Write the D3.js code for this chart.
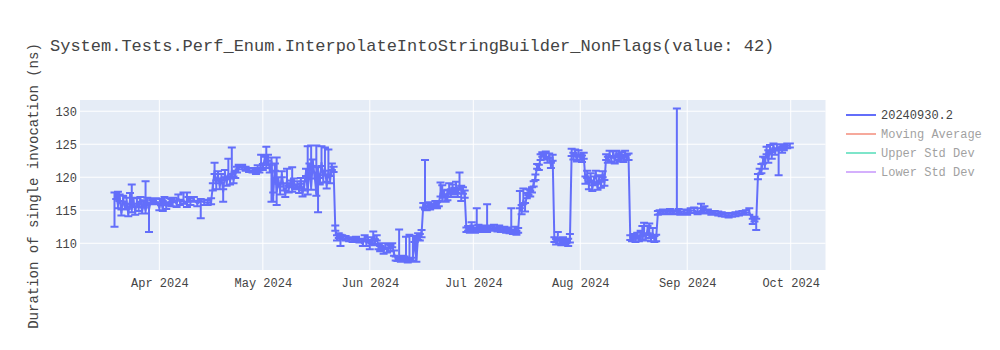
<!DOCTYPE html>
<html><head><meta charset="utf-8">
<script src="https://cdn.jsdelivr.net/npm/d3@7"></script>
<style>
body{margin:0;background:#fff}
svg{display:block}
text{font-family:"Liberation Mono","Courier New",monospace;fill:#444}
</style>
</head><body>
<svg id="chart" width="1000" height="350"></svg>
<script>
// ---------------- DATA ----------------
const title = "System.Tests.Perf_Enum.InterpolateIntoStringBuilder_NonFlags(value: 42)";
const yTitle = "Duration of single invocation (ns)";
const seriesName = "20240930.2";
const legendNames = ["20240930.2", "Moving Average", "Upper Std Dev", "Lower Std Dev"];
const yTicks = [110, 115, 120, 125, 130];
const xTicks = ["2024-04-01","2024-05-01","2024-06-01","2024-07-01","2024-08-01","2024-09-01","2024-10-01"];

const dates = [
// March
"03-19T00","03-19T12","03-20T00","03-20T12","03-21T00","03-21T12","03-22T00","03-22T12","03-23T00","03-23T12","03-24T00","03-24T12","03-25T00","03-25T12","03-26T00","03-26T12","03-27T00","03-27T12","03-28T00","03-28T12","03-29T00","03-29T12","03-30T00","03-31T00",
// April
"04-01T00","04-01T12","04-02T00","04-02T12","04-03T00","04-04T00","04-04T12","04-05T00","04-06T00","04-06T12","04-07T00","04-08T00","04-09T00","04-09T12","04-10T00","04-11T00","04-12T00","04-13T00","04-14T00","04-15T00","04-16T00","04-16T12","04-17T00","04-17T12","04-18T00","04-18T12","04-19T00","04-19T12","04-20T00","04-20T12","04-21T00","04-21T12","04-22T00","04-22T12","04-23T00","04-23T12","04-24T00","04-25T00","04-26T00","04-27T00","04-28T00","04-29T00","04-29T12","04-30T00","04-30T12",
// May
"05-01T00","05-01T12","05-02T00","05-02T12","05-03T00","05-03T12","05-04T00","05-04T12","05-05T00","05-05T12","05-06T00","05-06T12","05-07T00","05-07T12","05-08T00","05-08T12","05-09T00","05-09T12","05-10T00","05-10T12","05-11T00","05-11T12","05-12T00","05-12T12","05-13T00","05-13T12","05-14T00","05-14T12","05-15T00","05-15T12","05-16T00","05-16T12","05-17T00","05-17T12","05-18T00","05-18T12","05-19T00","05-19T12","05-20T00","05-20T12","05-21T00","05-21T12","05-22T00","05-22T12","05-23T00","05-23T12","05-24T00","05-25T00","05-26T00","05-27T00","05-28T00","05-29T00","05-30T00","05-30T12","05-31T00","05-31T12",
// June
"06-01T00","06-01T12","06-02T00","06-02T12","06-03T00","06-03T12","06-04T00","06-04T12","06-05T00","06-05T12","06-06T00","06-06T12","06-07T00","06-07T12","06-08T00","06-08T12","06-09T00","06-09T12","06-10T00","06-10T12","06-11T00","06-11T12","06-12T00","06-12T12","06-13T00","06-13T12","06-14T00","06-14T12","06-15T00","06-15T12","06-16T00","06-16T12","06-17T00","06-17T12","06-18T00","06-18T12","06-19T00","06-19T12","06-20T00","06-20T12","06-21T00","06-21T12","06-22T00","06-22T12","06-23T00","06-23T12","06-24T00","06-24T12","06-25T00","06-25T12","06-26T00","06-26T12","06-27T00","06-27T12","06-28T00","06-28T12","06-29T00","06-29T12","06-30T00","06-30T12",
// July
"07-01T00","07-01T12","07-02T00","07-02T12","07-03T00","07-03T12","07-04T00","07-04T12","07-05T00","07-05T12","07-06T00","07-07T00","07-08T00","07-08T12","07-09T00","07-10T00","07-10T12","07-11T00","07-11T12","07-12T00","07-12T12","07-13T00","07-13T12","07-14T00","07-14T12","07-15T00","07-15T12","07-16T00","07-16T12","07-17T00","07-17T12","07-18T00","07-18T12","07-19T00","07-19T12","07-20T00","07-20T12","07-21T00","07-21T12","07-22T00","07-22T12","07-23T00","07-23T12","07-24T00","07-24T12","07-25T00","07-25T12","07-26T00","07-26T12","07-27T00","07-27T12","07-28T00","07-28T12","07-29T00","07-29T12","07-30T00","07-30T12","07-31T00","07-31T12",
// August
"08-01T00","08-01T12","08-02T00","08-02T12","08-03T00","08-03T12","08-04T00","08-04T12","08-05T00","08-05T12","08-06T00","08-06T12","08-07T00","08-07T12","08-08T00","08-08T12","08-09T00","08-09T12","08-10T00","08-10T12","08-11T00","08-11T12","08-12T00","08-12T12","08-13T00","08-13T12","08-14T00","08-14T12","08-15T00","08-15T12","08-16T00","08-16T12","08-17T00","08-17T12","08-18T00","08-18T12","08-19T00","08-19T12","08-20T00","08-20T12","08-21T00","08-21T12","08-22T00","08-22T12","08-23T00","08-23T12","08-24T00","08-25T00","08-26T00","08-27T00","08-28T00","08-29T00","08-29T12","08-30T00","08-31T00",
// September
"09-01T00","09-02T00","09-03T00","09-04T00","09-05T00","09-05T12","09-06T00","09-07T00","09-08T00","09-09T00","09-10T00","09-11T00","09-12T00","09-13T00","09-14T00","09-15T00","09-16T00","09-17T00","09-18T00","09-19T00","09-20T00","09-20T12","09-21T00","09-21T12","09-22T00","09-22T12","09-23T00","09-23T12","09-24T00","09-24T12","09-25T00","09-25T12","09-26T00","09-26T12","09-27T00","09-27T12","09-28T00","09-28T12","09-29T00","09-30T00","09-30T18"
];

const values = [
// March
116.5,117.3,115.8,116.9,114.6,116.8,115.5,116.4,114.4,116.6,115.2,116.5,114.7,116.3,115.4,116.7,114.8,116.1,115.0,116.5,115.1,116.4,116.2,116.5,
// April
115.4,116.3,115.2,116.6,115.6,116.4,115.9,116.6,116.0,116.8,116.2,116.5,115.9,116.7,116.3,116.6,116.0,116.4,116.2,116.1,116.3,118.6,121.0,119.0,120.3,118.7,120.0,117.8,120.6,119.2,120.5,119.4,121.0,119.6,120.4,121.2,121.5,121.6,121.3,121.1,121.0,120.8,121.4,121.0,122.2,
// May
121.5,122.6,121.8,123.0,121.2,122.4,117.2,121.5,117.8,119.5,118.0,120.4,118.6,117.4,119.6,118.3,119.0,118.2,119.3,118.5,118.9,118.0,119.5,117.6,118.8,120.8,117.8,121.6,118.6,122.3,120.2,117.6,121.0,119.3,122.2,119.8,121.5,118.8,120.8,119.6,121.6,121.2,112.2,110.8,111.2,110.6,110.9,110.7,110.6,110.5,110.7,110.4,109.9,110.8,110.1,110.6,
// June
109.7,110.4,110.9,110.2,110.7,109.5,109.2,109.6,108.8,109.5,109.0,109.6,109.3,109.7,108.5,107.7,107.6,107.9,107.5,107.8,107.6,107.6,107.5,107.8,107.5,107.7,110.6,107.5,111.0,110.8,111.4,115.8,115.6,115.4,115.8,115.5,115.7,115.6,116.0,115.7,116.0,117.6,117.0,117.4,116.8,117.6,118.0,117.6,118.4,117.9,118.3,117.5,118.6,118.2,118.0,117.5,112.0,112.2,112.0,111.9,
// July
112.3,111.9,112.1,112.4,112.0,112.3,112.1,112.4,112.0,112.3,112.2,112.4,112.1,112.3,112.0,112.2,111.9,112.1,111.8,112.0,111.7,112.1,111.6,111.9,115.8,114.8,116.5,115.6,117.2,117.8,117.5,118.0,119.0,120.0,121.6,121.4,123.0,123.4,123.0,123.5,122.6,123.3,121.8,123.0,110.5,110.2,110.8,110.3,110.0,110.5,110.1,110.3,109.9,110.4,123.6,123.2,123.8,122.8,123.5,
// August
123.0,122.7,123.3,119.5,120.4,118.8,120.0,118.4,119.6,120.6,118.5,119.9,118.8,120.5,119.2,123.0,122.6,123.5,122.8,123.3,122.6,123.6,123.0,122.8,123.4,122.7,123.5,123.0,122.9,110.8,110.7,111.0,110.6,111.1,110.6,111.4,111.0,111.6,110.9,112.0,111.2,110.7,111.5,110.6,110.8,114.6,114.7,114.8,114.7,114.8,114.7,114.9,114.8,114.7,114.8,
// September
114.6,114.9,115.0,114.7,115.0,114.8,115.0,114.8,114.6,114.6,114.5,114.4,114.3,114.2,114.3,114.4,114.5,114.6,114.6,114.7,113.3,113.6,113.2,120.1,120.8,121.0,122.6,121.8,124.0,122.6,124.4,123.3,124.7,123.8,124.5,123.9,124.6,124.1,124.4,124.8,124.8
];

const errPlus = [
// March
1.2,0.4,2.0,0.5,0.5,0.4,0.4,0.5,1.0,1.0,3.7,0.4,0.8,0.5,0.6,0.3,1.1,0.4,4.4,0.4,1.0,0.4,0.3,0.3,
// April
0.5,0.4,1.2,0.4,0.5,0.4,0.8,0.3,0.5,0.6,0.4,1.2,1.8,0.3,0.5,0.4,0.4,0.3,0.4,0.4,0.5,0.5,1.2,0.5,0.6,0.4,0.5,0.4,0.5,0.5,2.3,0.4,3.5,0.5,0.6,0.4,0.4,0.3,0.3,0.3,0.4,0.3,0.4,0.4,1.2,
// May
0.5,0.5,2.8,0.4,0.6,0.6,0.5,0.6,5.2,0.5,0.6,0.5,0.5,0.6,1.7,0.4,0.5,3.3,0.5,0.4,0.5,0.5,0.4,0.4,0.6,0.5,6.9,0.5,6.2,0.4,0.5,7.2,0.5,0.6,2.5,0.5,3.0,0.5,3.4,0.6,0.5,0.4,0.5,0.4,0.3,0.7,0.3,0.4,0.3,0.3,0.3,0.3,0.7,0.4,0.4,0.3,
// June
0.5,0.5,0.9,0.4,0.5,0.4,0.4,0.4,0.3,0.5,0.3,0.3,0.4,0.3,0.4,0.3,0.4,4.2,0.3,0.3,0.4,3.4,0.3,3.5,0.3,3.4,0.5,3.6,0.5,0.6,0.6,0.3,7.0,0.3,0.4,0.4,0.3,0.4,0.4,0.5,0.4,1.6,1.8,0.6,0.5,0.5,1.1,0.6,0.5,0.5,1.0,0.6,2.1,0.5,0.5,0.5,0.4,0.4,0.3,1.3,
// July
0.4,0.4,3.2,0.4,0.4,0.3,0.4,0.3,3.9,0.4,0.3,0.4,0.3,0.4,0.4,0.3,0.4,0.3,0.3,3.3,0.3,0.4,0.3,0.4,2.1,1.0,1.8,0.5,0.4,0.4,0.5,0.5,0.4,0.4,0.4,0.5,0.5,0.4,0.7,0.4,0.3,0.3,0.4,0.4,0.4,0.4,0.9,0.4,0.5,0.4,0.4,0.4,0.8,1.0,0.7,0.5,0.4,0.5,0.6,
// August
0.4,0.6,0.4,0.6,0.6,0.5,0.6,0.4,0.5,0.4,0.5,0.4,0.6,0.4,0.4,0.5,0.5,0.5,0.4,0.6,0.5,0.4,0.5,0.6,0.4,0.5,0.5,0.4,0.7,0.4,0.5,0.4,0.5,0.5,0.6,0.5,1.6,1.5,0.5,0.6,1.8,0.6,0.8,0.5,0.5,0.3,0.3,0.3,0.3,0.4,0.3,15.5,0.4,0.4,0.3,
// September
0.4,0.4,0.4,0.6,1.0,0.5,0.6,0.3,0.3,0.3,0.3,0.3,0.3,0.3,0.3,0.3,0.3,0.3,0.4,0.6,0.4,0.4,0.5,0.4,0.5,1.0,0.5,1.2,0.6,1.5,0.5,0.5,0.4,0.6,0.5,0.5,0.4,0.5,0.5,0.3,0.3
];

const errMinus = [
// March
4.0,0.6,0.5,0.5,0.4,0.5,0.4,1.2,0.3,0.6,0.5,1.0,0.4,0.8,0.5,0.4,0.3,0.7,0.5,0.6,3.4,0.4,0.3,0.3,
// April
0.4,0.5,0.3,0.4,0.4,0.5,0.3,0.4,0.5,0.3,0.4,0.5,0.4,0.4,0.5,0.3,0.4,2.6,0.4,0.3,0.4,0.6,0.5,0.8,0.5,0.5,0.4,1.5,0.6,0.5,0.4,0.5,0.5,0.5,0.5,0.5,0.3,0.4,0.3,0.3,0.3,0.3,0.4,0.3,0.4,
// May
0.4,0.5,0.4,0.5,0.5,6.1,0.9,0.5,2.0,0.5,0.6,0.4,0.6,0.4,0.5,0.6,0.5,0.4,0.5,0.3,0.5,0.4,0.5,0.5,0.6,0.6,0.4,0.5,0.5,0.6,0.4,0.4,6.3,0.4,0.5,0.6,0.5,0.5,0.4,0.5,0.5,0.4,0.3,0.4,0.4,1.0,0.3,0.3,0.3,0.3,0.3,0.3,0.3,0.4,0.5,0.3,
// June
0.6,0.4,0.4,0.5,0.3,0.4,0.4,0.3,0.4,0.4,0.4,0.3,0.5,0.3,0.4,0.3,0.3,0.3,0.3,0.3,0.4,0.3,0.4,0.3,0.3,0.3,0.4,0.3,0.5,0.4,0.5,0.4,0.5,0.4,0.3,0.4,0.3,0.3,0.4,0.4,0.4,0.5,0.7,0.5,0.5,1.1,0.5,0.6,0.8,0.5,0.7,0.5,0.5,1.8,0.5,0.6,0.3,0.3,0.4,0.3,
// July
0.4,0.3,0.3,0.4,0.3,0.3,0.3,0.4,0.3,0.3,0.3,0.4,0.3,0.3,0.3,0.3,0.3,0.4,0.3,0.4,0.3,0.4,0.3,0.3,0.5,0.4,0.5,0.8,0.4,0.5,0.4,0.3,0.4,0.4,0.3,0.3,0.4,0.3,0.3,0.4,0.4,0.3,0.4,0.5,0.3,0.4,0.3,0.4,0.3,0.5,0.4,0.3,0.3,0.3,0.4,0.5,0.4,0.4,0.4,
// August
0.3,0.4,0.5,0.5,0.5,0.6,0.5,0.5,0.4,0.5,0.4,0.6,0.4,0.5,0.5,0.4,0.4,0.4,0.4,0.3,0.5,0.4,0.4,0.4,0.5,0.4,0.4,0.4,0.3,0.3,0.4,0.3,0.4,0.4,0.3,0.4,0.4,0.4,0.5,0.5,0.4,0.4,0.6,0.4,0.5,0.3,0.3,0.3,0.3,0.3,0.3,0.4,0.3,0.4,0.3,
// September
0.3,0.3,0.4,0.3,0.4,0.3,0.4,0.3,0.3,0.3,0.3,0.3,0.3,0.3,0.3,0.3,0.3,0.3,0.3,0.4,0.4,0.3,1.2,0.4,0.3,0.4,0.5,0.5,0.5,0.4,0.6,0.5,0.5,0.4,0.4,3.6,0.4,0.4,0.3,0.4,0.3
];

// ---------------- LAYOUT ----------------
const W = 1000, H = 350;
const plot = {left: 80, right: 825.5, top: 100, bottom: 270};
const lineColor = "#636efa";
const legendColors = ["#636efa", "#EF553B", "#00cc96", "#ab63fa"];
const legendOpacity = [1, 0.5, 0.5, 0.5];

const svg = d3.select("#chart");
svg.append("rect").attr("width", W).attr("height", H).attr("fill", "#fff");

const parse = d3.utcParse("%Y-%m-%dT%H");
const n = Math.min(dates.length, values.length, errPlus.length, errMinus.length);
if (dates.length !== values.length || values.length !== errPlus.length || errPlus.length !== errMinus.length) {
  console.error("length mismatch", dates.length, values.length, errPlus.length, errMinus.length);
}
const data = d3.range(n).map(i => ({
  t: parse("2024-" + dates[i]), v: values[i], up: errPlus[i], dn: errMinus[i]
}));

const x = d3.scaleUtc()
  .domain([new Date(Date.UTC(2024, 2, 9, 0)), new Date(Date.UTC(2024, 9, 11, 2))])
  .range([plot.left, plot.right]);
const y = d3.scaleLinear().domain([105.95, 131.7]).range([plot.bottom, plot.top]);

// plot background
svg.append("rect")
  .attr("x", plot.left).attr("y", plot.top)
  .attr("width", plot.right - plot.left).attr("height", plot.bottom - plot.top)
  .attr("fill", "#E5ECF6");

const xTickDates = xTicks.map(d => d3.utcParse("%Y-%m-%d")(d));

// gridlines
svg.append("g").selectAll("line").data(yTicks).join("line")
  .attr("x1", plot.left).attr("x2", plot.right)
  .attr("y1", d => y(d)).attr("y2", d => y(d))
  .attr("stroke", "#fff").attr("stroke-width", 1);
svg.append("g").selectAll("line").data(xTickDates).join("line")
  .attr("x1", d => x(d)).attr("x2", d => x(d))
  .attr("y1", plot.top).attr("y2", plot.bottom)
  .attr("stroke", "#fff").attr("stroke-width", 1);

// axes (labels only)
const xAxis = svg.append("g").attr("transform", `translate(0,${plot.bottom})`)
  .call(d3.axisBottom(x).tickValues(xTickDates).tickSize(0).tickPadding(8.5).tickFormat(d3.utcFormat("%b %Y")));
xAxis.select(".domain").remove();
xAxis.selectAll("text").attr("font-size", 12).attr("fill", "#444")
  .attr("font-family", '"Liberation Mono","Courier New",monospace');

const yAxis = svg.append("g").attr("transform", `translate(${plot.left},0)`)
  .call(d3.axisLeft(y).tickValues(yTicks).tickSize(0).tickPadding(3));
yAxis.select(".domain").remove();
yAxis.selectAll("text").attr("font-size", 12).attr("fill", "#444")
  .attr("font-family", '"Liberation Mono","Courier New",monospace');

// clip
svg.append("clipPath").attr("id", "clip").append("rect")
  .attr("x", plot.left).attr("y", plot.top)
  .attr("width", plot.right - plot.left).attr("height", plot.bottom - plot.top);
const g = svg.append("g").attr("clip-path", "url(#clip)");

// line
const line = d3.line().x(d => x(d.t)).y(d => y(d.v));
g.append("path").datum(data).attr("d", line)
  .attr("fill", "none").attr("stroke", lineColor).attr("stroke-width", 2)
  .attr("stroke-linejoin", "round");

// error bars
const hw = 4;
g.append("path")
  .attr("d", data.map(d => {
    const xx = x(d.t), yh = y(d.v + d.up), yl = y(d.v - d.dn);
    return `M${xx - hw},${yh}h${2 * hw}m-${hw},0V${yl}m-${hw},0h${2 * hw}`;
  }).join(""))
  .attr("fill", "none").attr("stroke", lineColor).attr("stroke-width", 2);

// title
svg.append("text").attr("x", 50).attr("y", 51)
  .attr("font-size", 17).attr("fill", "#444").text(title);

// y title
svg.append("text")
  .attr("transform", "translate(38,186) rotate(-90)")
  .attr("text-anchor", "middle").attr("font-size", 14).attr("fill", "#444")
  .text(yTitle);

// legend
const lg = svg.append("g");
legendNames.forEach((name, i) => {
  const cy = 115 + i * 19;
  const item = lg.append("g").attr("opacity", legendOpacity[i]);
  item.append("line").attr("x1", 846).attr("x2", 876).attr("y1", cy).attr("y2", cy)
    .attr("stroke", legendColors[i]).attr("stroke-width", 2);
  item.append("text").attr("x", 881).attr("y", cy).attr("dy", "0.35em")
    .attr("font-size", 12).attr("fill", "#444").text(name);
});
</script>
</body></html>
